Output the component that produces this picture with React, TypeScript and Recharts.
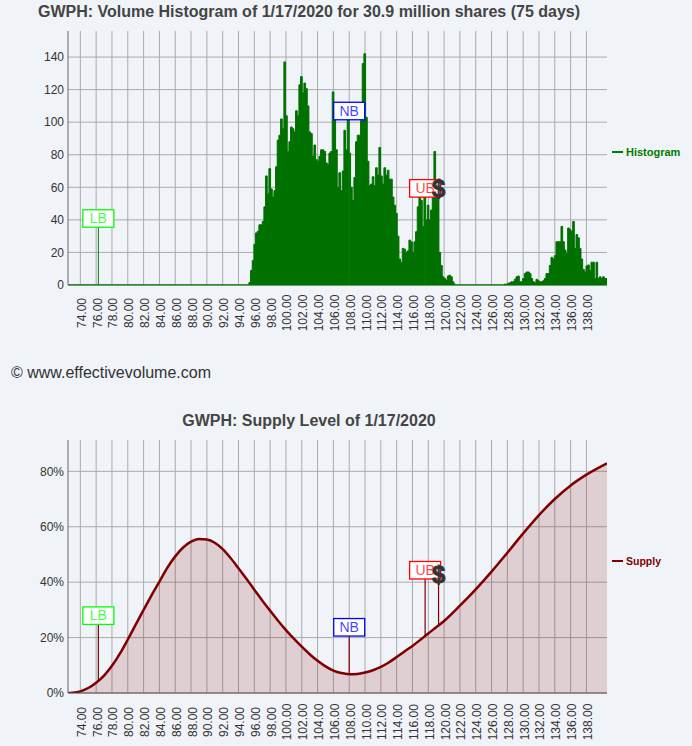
import React from "react";
import { ComposedChart, Area, XAxis, YAxis, CartesianGrid, ReferenceLine, ReferenceDot, Legend } from "recharts";

const PRICE_MIN = 72.44;
const PRICE_MAX = 140.6;
const priceTicks = [74,76,78,80,82,84,86,88,90,92,94,96,98,100,102,104,106,108,110,112,114,116,118,120,122,124,126,128,130,132,134,136,138];
const histTicks = [0,20,40,60,80,100,120,140];
const supplyTicks = [0,20,40,60,80];
const BIN = 0.2108;
const mainStart = 95.21;
const mainVolumes = [
  0,1.5,9,15,25,32,33,37,37,39,48,67,56,71.5,59,54,58,72.6,89,92,102,96,137,104,82,88,97,96,94,107,104,123,128,118,
  124,120.6,110,94,93,79,86,77,76,79,83,83,82,75,74,81,82,118.6,106,83,60,69,58,70,95,83,105,81,60,52,66,88,92,92,101,136,
  142,103,76,61,62,66.5,61,72,67.5,84.5,67,62,72,67.5,70.5,65,65,54,49,44,30,16,14,22.5,22,20,21,27.6,26.5,20,26.5,32.7,48,
  54,52,36,54,40,49,40,46,54,82,60,58,20,12,5,4,3,5.5,6,5,2,0.5,
];
const lateStart = 127.72;
const lateVolumes = [
  0.5,0.5,1,1.4,2,2,3.5,5,5.5,2,2,4,7,8,8,7,4,2,1.4,3.5,2.6,2,2,2.6,4,7,7,12,17,16,18,26.6,26.6,26.6,36,26.6,21.5,19.5,
  35,34,33,39,22.5,31,29,22.5,16,9.6,8,11.7,12.3,9,14,14,4,14,4,5,4,5,4,4,
];
const supplyPrices = [72.44,73,74,75,76,77,78,79,80,81,82,83,84,85,86,87,88,89,90,91,92,93,94,95,96,97,98,99,100,101,102,103,104,105,106,107,108,109,110,111,112,113,114,115,116,117,118,119,120,122,124,126,128,130,132,134,136,138,140.6];
const supplyValues = [0,0.1,0.6,1.8,3.7,6.3,9.8,14.2,19.3,24.7,30,35.2,40.2,45.2,49.3,52.5,54.6,55.6,55.4,54.2,51.9,48.7,45,41.2,37.3,33.4,29.7,26.1,22.7,19.6,16.7,14,11.6,9.6,8.1,7.2,6.8,6.9,7.4,8.2,9.4,11,13,15,17,19.2,21.5,23.7,26,31.5,37.4,43.8,50.6,57.6,64.2,70,74.9,78.8,82.9];

const markerNames = ["LB", "NB", "UB", "$"];
const markerPrices = [76.28, 108, 117.6, 119.3];
const markerColors = ["#00ff00", "#0000ff", "#ff0000", "#333333"];
const histMarkerLevels = [41, 107, 59.5, 59];
const supplyMarkerLevels = [28, 23.8, 44.4, 42.6];
const supplyMarkerBases = [4, 6.8, 20.4, 24.2];

const histData = [
  { price: PRICE_MIN, volume: 0 },
  { price: 95.0, volume: 0 },
  ...mainVolumes.map((volume, i) => ({ price: mainStart + i * BIN, volume })),
  { price: mainStart + mainVolumes.length * BIN, volume: 0 },
  { price: 127.5, volume: 0 },
  ...lateVolumes.map((volume, i) => ({ price: lateStart + i * BIN, volume })),
  { price: PRICE_MAX, volume: 4 },
];
const supplyData = supplyPrices.map((price, i) => ({ price, supply: supplyValues[i] }));

const FONT = "'Liberation Sans', Arial, sans-serif";
const BG = "#f0f4f8";

function PriceTick({ x, y, payload, offset }: any) {
  return (
    <text x={0} y={0} transform={`translate(${x + 5.5},${y + offset}) rotate(-90)`} textAnchor="middle" fontFamily={FONT} fontSize={12} fill="#333">
      {payload.value.toFixed(2)}
    </text>
  );
}

function Flag({ cx, cy, name, color }: any) {
  if (name === "$") {
    return (
      <text x={cx} y={cy + 8} textAnchor="middle" fontFamily={FONT} fontWeight="bold" fontSize={24} fill="#333" stroke="#333" strokeWidth={0.8}>$</text>
    );
  }
  return (
    <g>
      <rect x={cx - 15.5} y={cy - 8.5} width={31} height={17.5} fill="#fff" stroke={color} strokeWidth={1.3} />
      <text x={cx} y={cy + 5} textAnchor="middle" fontFamily={FONT} fontSize={14} fill={color} fillOpacity={0.75}>{name}</text>
    </g>
  );
}

function legendContent(label: string, color: string, size: number) {
  return () => (
    <div style={{ display: "flex", alignItems: "center", fontFamily: FONT, fontWeight: "bold", fontSize: size, color }}>
      <span style={{ display: "inline-block", width: 11, height: 2, background: color, marginRight: 3 }} />
      {label}
    </div>
  );
}

const titleStyle: React.CSSProperties = { position: "absolute", fontFamily: FONT, fontWeight: "bold", fontSize: 16, color: "#444", whiteSpace: "nowrap", transform: "translateX(-50%)", left: 309 };

export default function App() {
  return (
    <div style={{ position: "absolute", left: 0, top: 0, width: 692, height: 746, background: BG, overflow: "hidden" }}>
      <div style={{ position: "absolute", left: 0, top: 0 }}>
        <ComposedChart width={692} height={380} data={histData} margin={{ top: 31, right: 85, bottom: 0, left: 0 }}>
          <CartesianGrid stroke="#aaaaaa" strokeWidth={1} syncWithTicks />
          <XAxis dataKey="price" type="number" domain={[PRICE_MIN, PRICE_MAX]} ticks={priceTicks} interval={0} height={95} tickLine={false} axisLine={{ stroke: "#007000" }} tick={<PriceTick offset={20} />} allowDataOverflow />
          <YAxis type="number" domain={[0, 156]} ticks={histTicks} width={68} tickLine={false} tickSize={0} axisLine={{ stroke: "#666" }} tick={{ fontFamily: FONT, fontSize: 12, fill: "#333" }} tickMargin={4} allowDataOverflow />
          <Area dataKey="volume" name="Histogram" type="step" stroke="#007000" strokeWidth={1} fill="#007000" fillOpacity={1} dot={false} activeDot={false} isAnimationActive={false} />
          {markerNames.map((name, i) => name === "$" ? null : (
            <ReferenceLine key={name} segment={[{ x: markerPrices[i], y: 0 }, { x: markerPrices[i], y: histMarkerLevels[i] }]} stroke="#008000" strokeWidth={1} />
          ))}
          {markerNames.map((name, i) => (
            <ReferenceDot key={name} x={markerPrices[i]} y={histMarkerLevels[i]} shape={(p: any) => <Flag {...p} name={name} color={markerColors[i]} />} />
          ))}
          <Legend layout="vertical" align="center" verticalAlign="middle" wrapperStyle={{ position: "absolute", left: 612, top: 146, width: 75 }} content={legendContent("Histogram", "#007a00", 11)} />
        </ComposedChart>
      </div>
      <div style={{ position: "absolute", left: 0, top: 400 }}>
        <ComposedChart width={692} height={346} data={supplyData} margin={{ top: 40, right: 85, bottom: 0, left: 0 }}>
          <CartesianGrid stroke="#aaaaaa" strokeWidth={1} syncWithTicks />
          <XAxis dataKey="price" type="number" domain={[PRICE_MIN, PRICE_MAX]} ticks={priceTicks} interval={0} height={53} tickLine={false} axisLine={{ stroke: "#555" }} tick={<PriceTick offset={21} />} allowDataOverflow />
          <YAxis type="number" domain={[0, 91.3]} ticks={supplyTicks} width={68} tickLine={false} tickSize={0} axisLine={{ stroke: "#666" }} tick={{ fontFamily: FONT, fontSize: 12, fill: "#333" }} tickFormatter={(v: number) => `${v}%`} tickMargin={4} allowDataOverflow />
          <Area dataKey="supply" name="Supply" type="monotone" stroke="#800000" strokeWidth={2.5} fill="#800000" fillOpacity={0.15} dot={false} activeDot={false} isAnimationActive={false} />
          {markerNames.map((name, i) => (
            <ReferenceLine key={name} segment={[{ x: markerPrices[i], y: supplyMarkerBases[i] }, { x: markerPrices[i], y: supplyMarkerLevels[i] }]} stroke="#800000" strokeWidth={1.2} />
          ))}
          {markerNames.map((name, i) => (
            <ReferenceDot key={name} x={markerPrices[i]} y={supplyMarkerLevels[i]} shape={(p: any) => <Flag {...p} name={name} color={markerColors[i]} />} />
          ))}
          <Legend layout="vertical" align="center" verticalAlign="middle" wrapperStyle={{ position: "absolute", left: 612, top: 155, width: 75 }} content={legendContent("Supply", "#800000", 10.5)} />
        </ComposedChart>
      </div>
      <div style={{ ...titleStyle, top: 3 }}>GWPH: Volume Histogram of 1/17/2020 for 30.9 million shares (75 days)</div>
      <div style={{ ...titleStyle, top: 412 }}>GWPH: Supply Level of 1/17/2020</div>
      <div style={{ position: "absolute", left: 11, top: 364, fontFamily: FONT, fontSize: 16, color: "#333" }}>© www.effectivevolume.com</div>
    </div>
  );
}
